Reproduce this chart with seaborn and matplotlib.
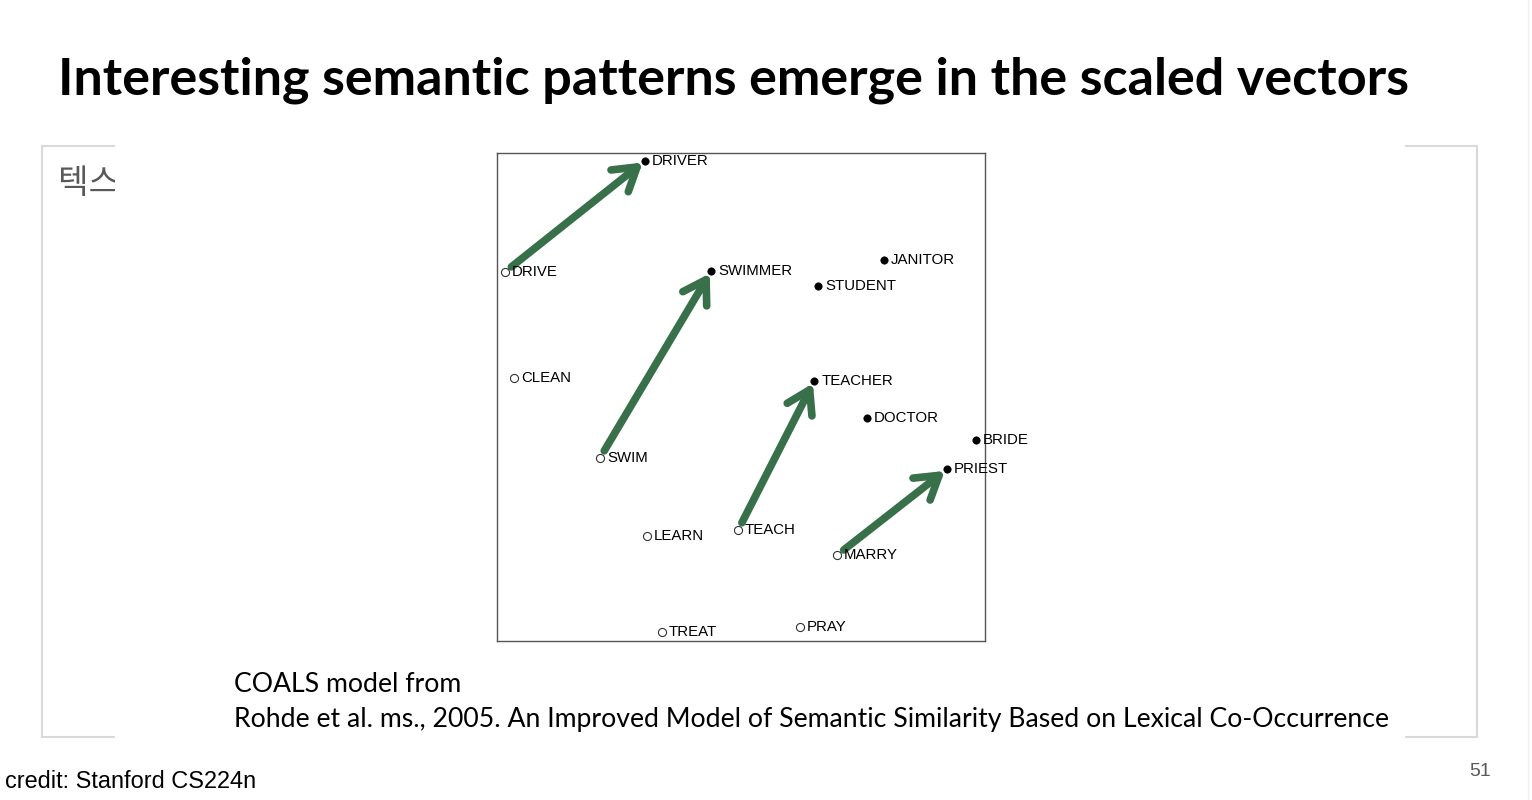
import pandas as pd
import matplotlib.pyplot as plt
import seaborn as sns
from matplotlib.patches import Rectangle
from matplotlib.lines import Line2D

# word positions (arbitrary 0-10 units)
words = ["DRIVER", "DRIVE", "SWIMMER", "JANITOR", "STUDENT", "CLEAN", "TEACHER", "DOCTOR",
         "BRIDE", "PRIEST", "SWIM", "LEARN", "TEACH", "MARRY", "TREAT", "PRAY"]
x_vals = [3.03, 0.16, 4.39, 7.93, 6.58, 0.35, 6.50, 7.58, 9.82, 9.22, 2.11, 3.07, 4.94, 6.97, 3.38, 6.21]
y_vals = [9.84, 7.56, 7.58, 7.81, 7.27, 5.39, 5.33, 4.57, 4.12, 3.52, 3.75, 2.15, 2.27, 1.76, 0.18, 0.29]
kinds = ["noun", "verb", "noun", "noun", "noun", "verb", "noun", "noun",
         "noun", "noun", "verb", "verb", "verb", "verb", "verb", "verb"]
arrow_pairs = [("DRIVE", "DRIVER"), ("SWIM", "SWIMMER"), ("TEACH", "TEACHER"), ("MARRY", "PRIEST")]

title = "Interesting semantic patterns emerge in the scaled vectors"
caption_1 = "COALS model from"
caption_2 = "Rohde et al. ms., 2005. An Improved Model of Semantic Similarity Based on Lexical Co-Occurrence"

GREEN = "#387049"
W, H = 1532, 800

df = pd.DataFrame({"word": words, "x": x_vals, "y": y_vals, "kind": kinds})

sns.set_style("white")
plt.rcParams["font.family"] = ["Lato", "DejaVu Sans"]
plt.rcParams["text.color"] = "black"

fig = plt.figure(figsize=(W / 100, H / 100), dpi=100)


def fx(px):
    return px / W


def fy(py):
    return 1 - py / H


fig.text(fx(58), fy(80), title, fontsize=37.5, fontweight="bold", va="center", ha="left")

# placeholder box with the Korean stub text, partly hidden by the pasted image
fig.patches.append(Rectangle((fx(42), fy(737)), fx(1477) - fx(42), fy(146) - fy(737),
                             transform=fig.transFigure, fill=False, edgecolor="#d9d9d9",
                             linewidth=1.5, zorder=1))
fig.text(fx(58), fy(184), "텍스트", fontsize=24, color="#595959", va="center", ha="left",
         family=["Noto Sans CJK KR", "DejaVu Sans"], zorder=2)
fig.patches.append(Rectangle((fx(115), fy(745)), fx(1405) - fx(115), fy(140) - fy(745),
                             transform=fig.transFigure, facecolor="white", edgecolor="none",
                             zorder=3))
fig.lines.append(Line2D([fx(1528), fx(1528)], [0, 1], transform=fig.transFigure,
                        color="#f0f0f0", linewidth=1, zorder=1))

ax = fig.add_axes([fx(497), fy(641), fx(985) - fx(497), fy(153) - fy(641)])
ax.set_zorder(5)

nouns = df[df["kind"] == "noun"]
verbs = df[df["kind"] == "verb"]
sns.scatterplot(data=nouns, x="x", y="y", ax=ax, color="black", s=28, edgecolor="black",
                linewidth=0.5, zorder=4)
sns.scatterplot(data=verbs, x="x", y="y", ax=ax, color="white", s=34, edgecolor="#333333",
                linewidth=0.8, zorder=4)

for _, r in df.iterrows():
    ax.annotate(r["word"], (r["x"], r["y"]), xytext=(5, 0), textcoords="offset points",
                fontsize=10.8, va="center", ha="left", family="Liberation Sans", zorder=5)

pos = df.set_index("word")
for a, b in arrow_pairs:
    ax.annotate("", xy=(pos.loc[b, "x"], pos.loc[b, "y"]),
                xytext=(pos.loc[a, "x"], pos.loc[a, "y"]),
                arrowprops=dict(arrowstyle="->,head_length=0.8,head_width=0.5",
                                mutation_scale=20, lw=5.5, color=GREEN, capstyle="round",
                                shrinkA=6, shrinkB=2),
                zorder=3)

ax.set_xlim(0, 10)
ax.set_ylim(0, 10)
ax.set_xticks([])
ax.set_yticks([])
ax.set_xlabel("")
ax.set_ylabel("")
for s in ax.spines.values():
    s.set_visible(True)
    s.set_color("#555555")
    s.set_linewidth(1.0)

fig.text(fx(234), fy(685), caption_1, fontsize=19.2, va="center", ha="left", zorder=6)
fig.text(fx(234), fy(720), caption_2, fontsize=19.2, va="center", ha="left", zorder=6)
fig.text(fx(5), fy(781), "credit: Stanford CS224n", fontsize=16.9, va="center", ha="left",
         family="Liberation Sans")
fig.text(fx(1491), fy(771), "51", fontsize=14, color="#595959", va="center", ha="right",
         family="Liberation Sans")

fig.savefig("out.png", dpi=100, facecolor="white")
